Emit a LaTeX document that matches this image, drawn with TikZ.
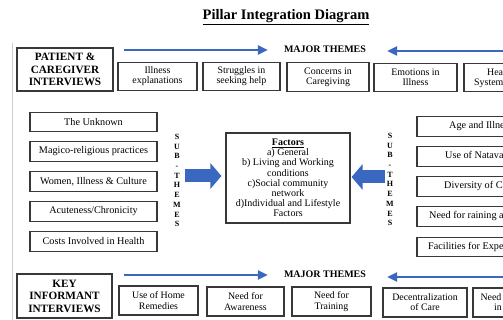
\documentclass[tikz,border=0pt]{standalone}
\usepackage{fontspec}
\setmainfont{Liberation Serif}
\usetikzlibrary{arrows.meta,calc}
\definecolor{arrowblue}{HTML}{3A67C0}
\definecolor{boxline}{HTML}{383838}
\begin{document}
\begin{tikzpicture}[x=1pt,y=-1pt,
  box/.style={draw=boxline, line width=1.1pt, align=center, inner sep=0pt,
    font=\fontsize{9.9}{10.2}\selectfont},
  hdbox/.style={box, font=\bfseries\fontsize{11.2}{12.5}\selectfont},
  sbox/.style={box, minimum height=19.5pt, font=\fontsize{10.2}{11}\selectfont},
  plain/.style={inner sep=0pt, align=center, font=\fontsize{9.9}{10.2}\selectfont},
  rtext/.style={plain, anchor=west, font=\fontsize{10.2}{11}\selectfont},
  themes/.style={inner sep=0pt, font=\bfseries\fontsize{10}{12}\selectfont},
  subth/.style={inner sep=0pt, align=center, font=\bfseries\fontsize{8}{9.7}\selectfont},
  thinarrow/.style={arrowblue, line width=2.2pt, -{Triangle[length=10pt,width=9pt]}},
  blockarrow/.style={arrowblue, line width=13pt, -{Triangle[length=11pt,width=25pt]}}
]
\useasboundingbox (0,0) rectangle (503,320);
\clip (0,0) rectangle (503,320);

% title
\node[font=\bfseries\fontsize{14.5}{16}\selectfont] (title) at (286,17) {\underline{Pillar Integration Diagram}};

% left margin rule
\draw[black!20, line width=0.8pt] (12,43) -- (12,320);

% ---- top band: patient and caregiver interviews ----
\node[hdbox, minimum width=96pt, minimum height=43pt] (pat) at (65,69.5) {PATIENT \&\\CAREGIVER\\INTERVIEWS};
\node[themes] (mt1) at (325,49) {MAJOR THEMES};
\coordinate (mt1r) at (512,51);
\draw[thinarrow] ($(pat.east |- mt1)+(10,1)$) -- ($(mt1.west)+(-16,1)$);
\draw[thinarrow] (mt1r) -- ($(mt1.east)+(21,2)$);

\node[box, minimum width=79pt, minimum height=28.5pt] (t1) at (157.5,76.5) {Illness\\explanations};
\node[box, minimum width=77pt, minimum height=28.5pt] (t2) at (241.5,76.5) {Struggles in\\seeking help};
\node[box, minimum width=82pt, minimum height=28.5pt] (t3) at (328,77) {Concerns in\\Caregiving};
\node[box, minimum width=83pt, minimum height=28.5pt] (t4) at (415.5,77.5) {Emotions in\\Illness};
\node[box, minimum width=84pt, minimum height=28.5pt] (t5) at (506,77.5) {};
\node[plain, anchor=north west, align=left] (t5t) at (474,68.5) {\hspace*{13pt}Health\\Systems};

% ---- middle: sub-themes feeding the factors ----
\node[sbox, minimum width=127pt] (l1) at (93.5,122) {The Unknown};
\node[sbox, minimum width=127pt] (l2) at (93.5,151.5) {Magico-religious practices};
\node[sbox, minimum width=127pt] (l3) at (93.5,181.5) {Women, Illness \& Culture};
\node[sbox, minimum width=127pt] (l4) at (93.5,211.5) {Acuteness/Chronicity};
\node[sbox, minimum width=127pt] (l5) at (93.5,241.5) {Costs Involved in Health};

\node[subth] (ls) at (177,180.5) {S\\U\\B\\-\\T\\H\\E\\M\\E\\S};

\node[box, minimum width=124pt, minimum height=90pt, font=\fontsize{10}{10.2}\selectfont] (fac) at (288,178)
  {\textbf{\underline{Factors}}\\a) General\\b) Living and Working\\conditions\\c)Social community\\network\\d)Individual and Lifestyle\\Factors};

\node[subth] (rs) at (390,179.5) {S\\U\\B\\-\\T\\H\\E\\M\\E\\S};

\draw[blockarrow] ($(ls.east |- fac.west)+(4,-2)$) -- ($(fac.west)+(-4,-2)$);
\draw[blockarrow] ($(rs.west |- fac.east)+(-1,-1)$) -- ($(fac.east)+(1,-1)$);

\node[sbox, minimum width=130pt] (r1) at (482,126.5) {};
\node[sbox, minimum width=130pt] (r2) at (482,156.5) {};
\node[sbox, minimum width=130pt] (r3) at (482,186.5) {};
\node[sbox, minimum width=130pt] (r4) at (482,216.5) {};
\node[sbox, minimum width=130pt] (r5) at (482,247) {};
\node[rtext] (r1t) at (449,126.5) {Age and Illness};
\node[rtext] (r2t) at (445,156.5) {Use of Natavaidya};
\node[rtext] (r3t) at (444,186.5) {Diversity of Care};
\node[rtext] (r4t) at (429,216.5) {Need for raining and};
\node[rtext] (r5t) at (428,247) {Facilities for Expert};

% ---- bottom band: key informant interviews ----
\node[hdbox, minimum width=95pt, minimum height=44pt] (kii) at (64.5,296) {KEY\\INFORMANT\\INTERVIEWS};
\node[themes] (mt2) at (325,274) {MAJOR THEMES};
\coordinate (mt2r) at (512,277);
\draw[thinarrow] ($(kii.east |- mt2)+(11,1)$) -- ($(mt2.west)+(-16,1)$);
\draw[thinarrow] (mt2r) -- ($(mt2.east)+(21,3)$);

\node[box, minimum width=79pt, minimum height=29pt] (c1) at (158.5,300.5) {Use of Home\\Remedies};
\node[box, minimum width=77pt, minimum height=29pt] (c2) at (245.5,301.5) {Need for\\Awareness};
\node[box, minimum width=79pt, minimum height=29pt] (c3) at (331.5,301.5) {Need for\\Training};
\node[box, minimum width=84pt, minimum height=29pt] (c4) at (425,302.5) {Decentralization\\of Care};
\node[box, minimum width=84pt, minimum height=29pt] (c5) at (515,302.5) {};
\node[plain] (c5t) at (498,302) {Need for\\in};
\end{tikzpicture}
\end{document}
